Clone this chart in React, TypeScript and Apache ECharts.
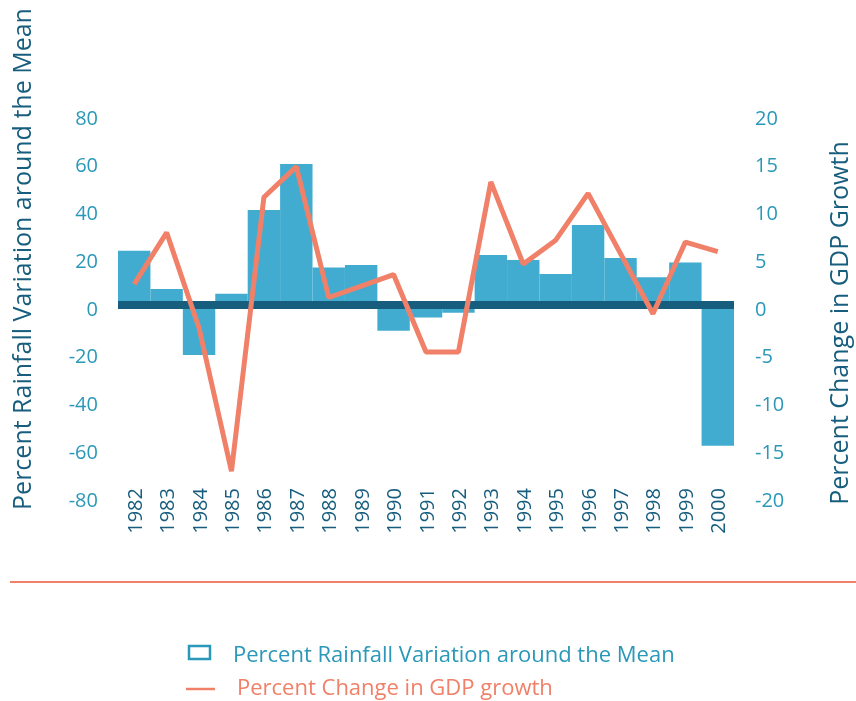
import React, { useEffect, useRef } from "react";
import * as echarts from "echarts";

const years = ["1982","1983","1984","1985","1986","1987","1988","1989","1990","1991","1992","1993","1994","1995","1996","1997","1998","1999","2000"];
const rainfall = [24, 8, -19.7, 6, 41, 60.3, 17, 18, -9.5, -4, -2, 22.2, 20.1, 14.2, 34.8, 20.9, 12.9, 19.1, -57.7];
const gdp = [2.5, 7.9, -2.1, -17.1, 11.6, 14.8, 1.1, 2.3, 3.5, -4.6, -4.6, 13.2, 4.6, 7.1, 12.0, 5.7, -0.6, 6.9, 5.9];
const seriesNames = ["Percent Rainfall Variation around the Mean", "Percent Change in GDP growth"];
const axisNames = ["Percent Rainfall Variation around the Mean", "Percent Change in GDP Growth"];

const BAR = "#42acd0";
const LINE = "#f08068";
const DARK = "#175e7e";
const TEAL = "#2a98b8";
const FONT = "'Open Sans', Lato, sans-serif";

export default function App() {
  const ref = useRef<HTMLDivElement>(null);
  useEffect(() => {
    if (!ref.current) return;
    const chart = echarts.init(ref.current, null, { renderer: "svg" });
    chart.setOption({
      animation: false,
      textStyle: { fontFamily: FONT },
      grid: { left: 118, right: 122, top: 117, bottom: 202, containLabel: false },
      xAxis: {
        type: "category",
        data: years,
        boundaryGap: true,
        axisLine: { show: false },
        axisTick: { show: false },
        axisLabel: { rotate: 90, margin: -11, color: DARK, fontSize: 20, fontFamily: FONT, interval: 0 },
      },
      yAxis: [
        {
          type: "value", min: -80, max: 80, interval: 20,
          splitLine: { show: false }, axisLine: { show: false }, axisTick: { show: false },
          axisLabel: { color: TEAL, fontSize: 20, fontFamily: FONT, margin: 20 },
        },
        {
          type: "value", min: -20, max: 20, interval: 5,
          splitLine: { show: false }, axisLine: { show: false }, axisTick: { show: false },
          axisLabel: { color: TEAL, fontSize: 20, fontFamily: FONT, margin: 21 },
        },
      ],
      series: [
        {
          name: seriesNames[0],
          type: "bar",
          data: rainfall,
          barCategoryGap: "0%",
          itemStyle: { color: BAR },
          markLine: {
            silent: true,
            symbol: "none",
            label: { show: false },
            lineStyle: { color: DARK, width: 8, type: "solid" },
            data: [{ yAxis: 1.5 }],
          },
        },
        {
          name: seriesNames[1],
          type: "line",
          yAxisIndex: 1,
          data: gdp,
          symbol: "none",
          z: 5,
          lineStyle: { color: LINE, width: 5 },
        },
      ],
      graphic: [
        { type: "text", x: 21, y: 259, rotation: Math.PI / 2,
          style: { text: axisNames[0], fill: DARK, font: `25px ${FONT}`, textAlign: "center", textVerticalAlign: "middle" } },
        { type: "text", x: 838, y: 323, rotation: Math.PI / 2,
          style: { text: axisNames[1], fill: DARK, font: `25px ${FONT}`, textAlign: "center", textVerticalAlign: "middle" } },
        { type: "line", shape: { x1: 10, y1: 582, x2: 856, y2: 582 }, style: { stroke: LINE, lineWidth: 2 } },
        { type: "rect", shape: { x: 189, y: 646, width: 21, height: 13 }, style: { fill: "none", stroke: TEAL, lineWidth: 2.5 } },
        { type: "text", x: 233, y: 653,
          style: { text: seriesNames[0], fill: TEAL, font: `22px ${FONT}`, textVerticalAlign: "middle" } },
        { type: "line", shape: { x1: 186, y1: 689, x2: 215, y2: 689 }, style: { stroke: LINE, lineWidth: 2.5 } },
        { type: "text", x: 237, y: 686,
          style: { text: seriesNames[1], fill: LINE, font: `22px ${FONT}`, textVerticalAlign: "middle" } },
      ],
    });
    return () => chart.dispose();
  }, []);
  return <div ref={ref} style={{ position: "fixed", left: 0, top: 0, width: 856, height: 701 }} />;
}
